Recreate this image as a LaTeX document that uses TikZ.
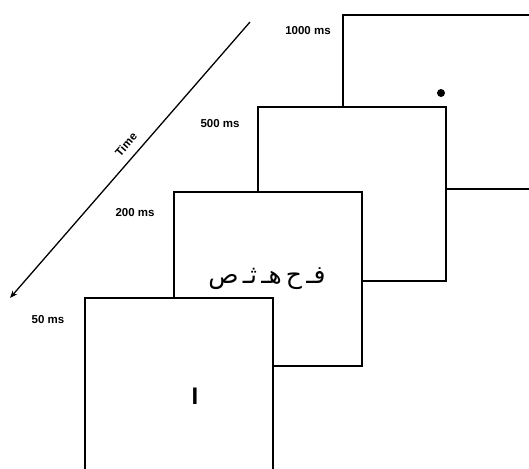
\documentclass[tikz,border=0pt]{standalone}
\usepackage{fontspec}
\setmainfont{Liberation Sans}
\newfontfamily\arabicfont[Script=Arabic]{DejaVu Sans}
\TeXXeTstate=1
\usetikzlibrary{arrows.meta}

\begin{document}
\begin{tikzpicture}[x=1pt,y=-1pt,>={Stealth[length=2.6mm,width=2mm]},
  screen/.style={draw,line width=1.9pt,fill=white,anchor=north west,
    minimum width=188pt,minimum height=174pt,inner sep=0pt,outer sep=0pt},
  dur/.style={font=\fontsize{11.5}{13}\selectfont\bfseries}]
  \useasboundingbox (0,0) rectangle (529,468);
  \clip (0,0) rectangle (529,468);
  % screens, back to front
  \node[screen] (fix)  at (343,15)  {};
  \node[screen] (mask) at (258,107) {};
  \node[screen] (word) at (174,192) {};
  \node[screen] (cue)  at (85,298)  {};
  \fill (441,93) circle (4pt);
  \node (letters) at (267,279)
    {\arabicfont\fontsize{25}{28}\selectfont\beginR فـ\,ح\,هـ\,ثـ\,ص\endR};
  \node[font=\fontsize{24}{26}\selectfont\bfseries] (bar) at (195,396) {I};
  % durations
  \node[dur] (t1000) at (308,31)  {1000 ms};
  \node[dur] (t500)  at (220,124) {500 ms};
  \node[dur] (t200)  at (135,213) {200 ms};
  \node[dur] (t50)   at (48,320)  {50 ms};
  % time axis
  \coordinate (tstart) at (250,22);
  \coordinate (tend)   at (10,298);
  \draw[->,line width=1.3pt] (tstart) -- (tend)
    node[pos=0.475,sloped,above=5pt,dur] (time) {Time};
\end{tikzpicture}
\end{document}
